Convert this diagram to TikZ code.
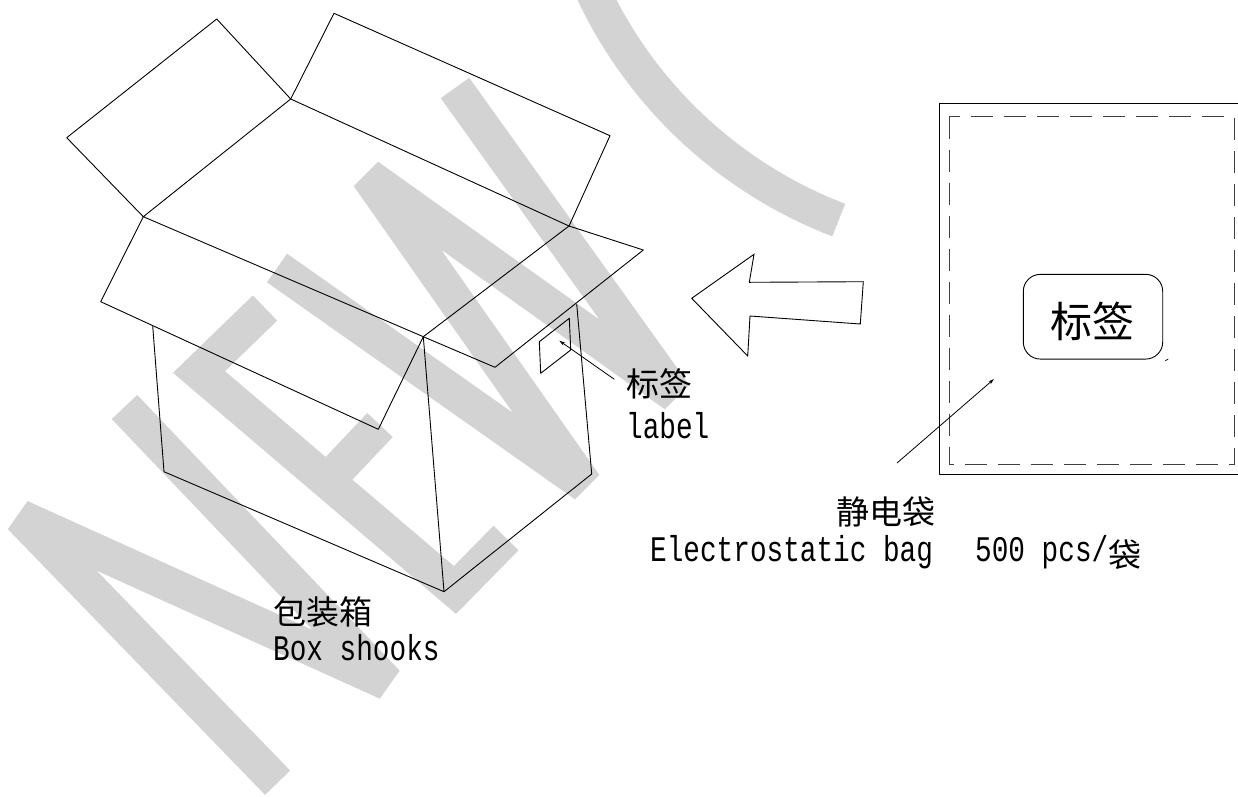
\documentclass[tikz,border=0pt]{standalone}
\usepackage{fontspec}
\newfontfamily\cjk{Noto Sans CJK SC}
\newfontfamily\mono[FakeStretch=0.77]{Liberation Mono}
\usetikzlibrary{arrows.meta}
\definecolor{wmgray}{RGB}{211,211,211}
\begin{document}
\begin{tikzpicture}[x=1pt,y=-1pt,
  edge/.style={line width=0.9pt, line join=round},
  wm/.style={wmgray, line width=35pt, line cap=butt, line join=bevel},
  cn/.style={font=\cjk\fontsize{33}{36}\selectfont, inner sep=0pt, anchor=west},
  en/.style={font=\mono\fontsize{36}{40}\selectfont, inner sep=0pt, anchor=base west},
  leader/.style={line width=0.8pt, -{Stealth[length=6pt,width=3.5pt]}},
  dashbox/.style={line width=0.9pt, black!75, dash pattern=on 22pt off 11pt},
]
\useasboundingbox (0,0) rectangle (1238,796);
\fill[white] (0,0) rectangle (1238,796);

% background watermark strokes
\draw[wm] (277.6,782.7) -- (20.4,517) -- (387,682.7) -- (124.5,407);
\draw[wm, line join=miter] (265,308) -- (199,372) -- (455,590) -- (506,538);
\draw[wm] (327,481) -- (380,425);
\draw[wm] (277,268) -- (585,485) -- (368,176) -- (675,395) -- (455,88);
\draw[wm] plot[domain=160:111, samples=40] ({1000+450*cos(\x)}, {-200+450*sin(\x)});

% open carton
\coordinate (LFt) at (216.7,19);
\coordinate (LFl) at (66.7,137.7);
\coordinate (A)   at (143.3,216.7);
\coordinate (J)   at (290.7,99);
\coordinate (BFt) at (334,13.3);
\coordinate (BFr) at (610,135.7);
\coordinate (B)   at (569,226);
\coordinate (C)   at (423.3,336.7);
\coordinate (FFl) at (100.7,301.7);
\coordinate (FFr) at (378.3,429.3);
\coordinate (RFt) at (643.3,250);
\coordinate (RFb) at (495,367.3);
\coordinate (VL1) at (152.7,326);
\coordinate (VL2) at (164,471.7);
\coordinate (BV)  at (444,591.7);
\coordinate (VR2) at (591.7,474);
\coordinate (VR1) at (576.7,304);

\draw[edge] (J) -- (LFt) -- (LFl) -- (A);
\draw[edge] (J) -- (BFt) -- (BFr) -- (B);
\draw[edge] (A) -- (J) -- (B) -- (C) -- cycle;
\draw[edge] (A) -- (FFl) -- (FFr) -- (C);
\draw[edge] (B) -- (RFt) -- (RFb) -- (C);
\draw[edge] (VL1) -- (VL2) -- (BV) -- (VR2) -- (VR1);
\draw[edge] (C) -- (BV);

% label patch on the carton
\draw[edge] (539.3,341.7) -- (569.3,318.3) -- (570.7,350) -- (540.7,373.3) -- cycle;
\coordinate (patch) at (559.3,340.7);
\coordinate (patchtail) at (614.3,379.3);
\draw[leader] (patchtail) -- (patch);
\node[cn] (lblcn) at (626,384) {标签};
\node[en] (lblen) at (626,438) {label};

% hollow arrow
\draw[edge, line join=miter] (691.7,298.3) -- (754,254.3) -- (749.3,282.3) -- (863.3,281.7)
  -- (860.3,324) -- (750,316) -- (747.7,356) -- cycle;

% electrostatic bag
\draw[edge] (1245,103.3) -- (939,103.3) -- (939,474.3) -- (1245,474.3);
\draw[dashbox] (949.3,116.7) rectangle (1234,464.3);
\node[draw, line width=0.9pt, rounded corners=17pt, minimum width=139.4pt,
      minimum height=84.7pt, inner sep=0pt] (tag) at (1093,316.7) {};
\node[font=\cjk\fontsize{42}{46}\selectfont, inner sep=0pt] (tagtext) at (1092,321.5) {标签};
\draw[line width=0.7pt] (1165.3,360.7) -- (1168.3,359);
\coordinate (bagtail) at (897,463);
\coordinate (bagtip) at (994,379);
\draw[leader] (bagtail) -- (bagtip);

% captions
\node[cn] (bagcn) at (836.7,511.7) {静电袋};
\node[en] (bagen) at (650,561.7) {Electrostatic bag};
\node[en] (qty) at (975,561.7) {500 pcs/\raisebox{-6pt}{\cjk\fontsize{33}{36}\selectfont 袋}};
\node[cn] (boxcn) at (273,611.7) {包装箱};
\node[en] (boxen) at (273,660) {Box shooks};
\end{tikzpicture}
\end{document}
